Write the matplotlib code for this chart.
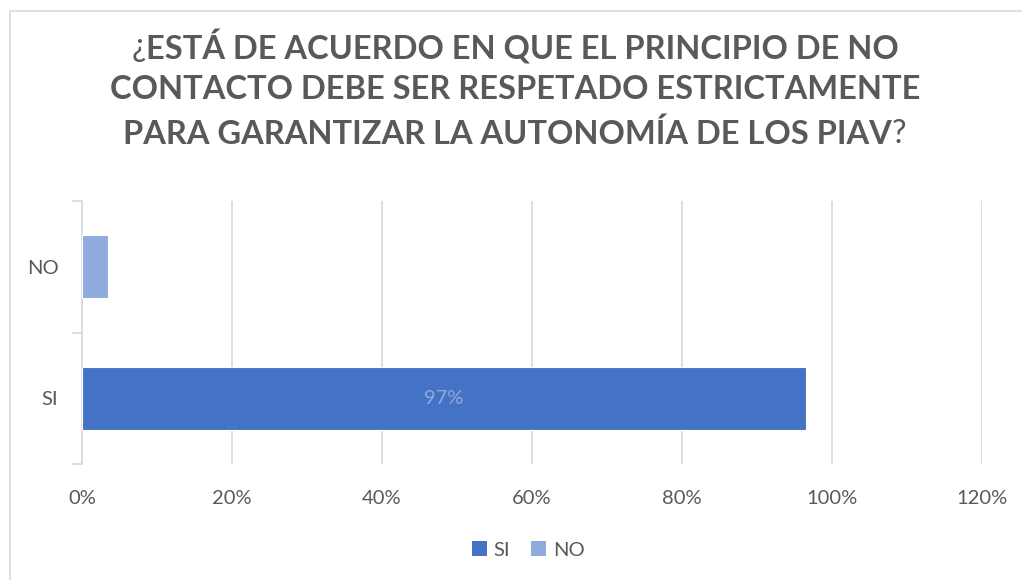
import matplotlib
matplotlib.use("Agg")
import matplotlib.pyplot as plt
from matplotlib.patches import Rectangle, Patch
from matplotlib.ticker import PercentFormatter

# data
categories = ["SI", "NO"]
values = [96.5, 3.5]
bar_colors = ["#4472C4", "#8FAADC"]
labels = ["97%", ""]
x_ticks = [0, 20, 40, 60, 80, 100, 120]

title_lines = [
    [("¿", "normal"), ("ESTÁ DE ACUERDO EN QUE EL PRINCIPIO DE NO", "bold")],
    [("CONTACTO DEBE SER RESPETADO ESTRICTAMENTE", "bold")],
    [("PARA GARANTIZAR LA AUTONOMÍA DE LOS PIAV", "bold"), ("?", "normal")],
]

W, H = 1022, 580
plt.rcParams["font.family"] = ["Lato", "DejaVu Sans"]
text_col = "#595959"
grid_col = "#D9D9D9"

fig = plt.figure(figsize=(W / 100, H / 100), dpi=100)
fig.patch.set_facecolor("white")

# chart area border (only top/left visible in the crop)
fig.patches.append(Rectangle((10 / W, -0.05), 1.1, (H - 11) / H + 0.05,
                             transform=fig.transFigure, fill=False,
                             edgecolor=grid_col, linewidth=1.2))

ax = fig.add_axes([82 / W, 1 - 464 / H, 900 / W, 263 / H])
ypos = list(range(len(categories)))
bars = ax.barh(ypos, values, height=0.48, color=bar_colors,
               edgecolor="white", linewidth=0.8, zorder=3)
for b, lab in zip(bars, labels):
    if lab:
        ax.text(b.get_x() + b.get_width() / 2, b.get_y() + b.get_height() / 2,
                lab, ha="center", va="center", color="#8FAADC", fontsize=14.5, zorder=4)

ax.set_xlim(0, 120)
ax.set_ylim(-0.5, len(categories) - 0.5)
ax.set_xticks(x_ticks)
ax.xaxis.set_major_formatter(PercentFormatter(decimals=0))
ax.set_yticks(ypos)
ax.set_yticklabels(categories)
ax.set_yticks([-0.5, 0.5, 1.5], minor=True)
ax.grid(axis="x", color=grid_col, linewidth=1.2, zorder=0)
for s in ["top", "right", "bottom"]:
    ax.spines[s].set_visible(False)
ax.spines["left"].set_color(grid_col)
ax.spines["left"].set_linewidth(1.2)
ax.tick_params(axis="x", length=0, pad=19, labelsize=14.5, labelcolor=text_col)
ax.tick_params(axis="y", which="major", length=0, pad=17, labelsize=14.5, labelcolor=text_col)
ax.tick_params(axis="y", which="minor", length=7, width=1.2, color=grid_col)

# title with mixed weight pieces, each line centred
renderer = fig.canvas.get_renderer()
line_y = [44, 87, 131]
for parts, yc in zip(title_lines, line_y):
    texts = []
    for s, w in parts:
        t = fig.text(0, 1 - yc / H, s, fontsize=23.5, fontweight=w, color=text_col,
                     ha="left", va="center_baseline")
        texts.append(t)
    widths = [t.get_window_extent(renderer).width for t in texts]
    x = (W - sum(widths)) / 2 + 4
    for t, wd in zip(texts, widths):
        t.set_x(x / W)
        x += wd

handles = [Patch(facecolor=c, edgecolor="none") for c in bar_colors]
fig.legend(handles, categories, loc="center", bbox_to_anchor=(528 / W, 1 - 550 / H),
           ncol=2, frameon=False, fontsize=14.5, labelcolor=text_col,
           handlelength=0.75, handleheight=0.75, handletextpad=0.35, columnspacing=1.0)

fig.savefig("out.png", dpi=100)
